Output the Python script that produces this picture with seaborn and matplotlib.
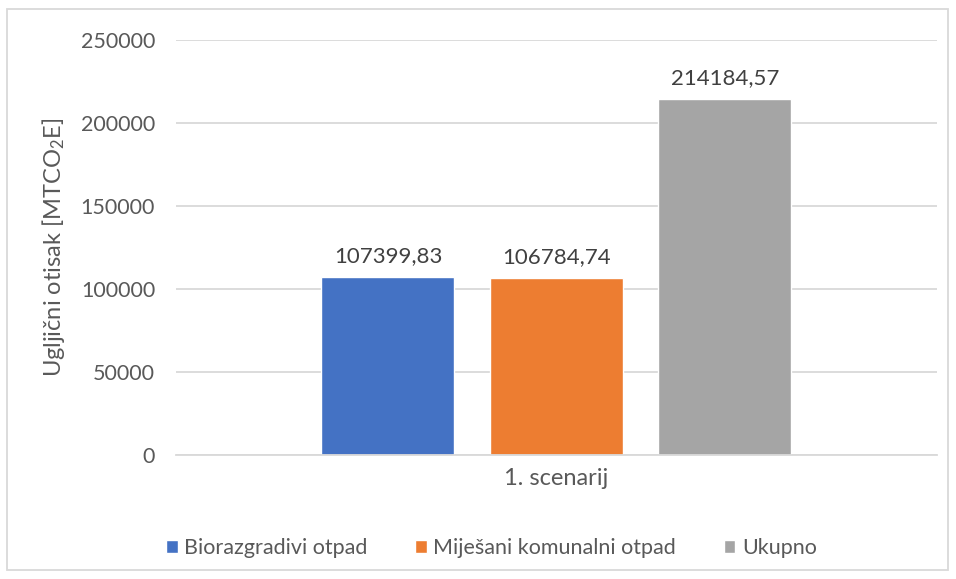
import matplotlib
matplotlib.use("Agg")
import matplotlib.pyplot as plt
import seaborn as sns
import pandas as pd
from matplotlib.patches import Rectangle

# === Data ===
scenarij = ["1. scenarij", "1. scenarij", "1. scenarij"]
vrste = ["Biorazgradivi otpad", "Miješani komunalni otpad", "Ukupno"]
vrijednosti = [107399.83, 106784.74, 214184.57]
boje = ["#4472C4", "#ED7D31", "#A5A5A5"]
y_ticks = [0, 50000, 100000, 150000, 200000, 250000]

df = pd.DataFrame({"scenarij": scenarij, "vrsta": vrste, "vrijednost": vrijednosti})

# === Style ===
sns.set_theme(style="white")
plt.rcParams["font.family"] = ["Lato", "DejaVu Sans"]
plt.rcParams["mathtext.fontset"] = "custom"
plt.rcParams["mathtext.rm"] = "Lato"
plt.rcParams["mathtext.it"] = "Lato"
text_col = "#595959"
grid_col = "#D9D9D9"

fig = plt.figure(figsize=(9.56, 5.79), dpi=100)
ax = fig.add_axes([0.184, 0.214, 0.796, 0.717])

sns.barplot(
    data=df, x="scenarij", y="vrijednost", hue="vrsta",
    palette=boje, saturation=1, width=0.664, gap=0.21, ax=ax,
)

# data labels with decimal comma
for cont in ax.containers:
    labels = [f"{v:.2f}".replace(".", ",") for v in cont.datavalues]
    ax.bar_label(cont, labels=labels, padding=8, fontsize=16, color="#404040")

# === Axes styling ===
ax.set_ylim(0, 250000)
ax.set_xlim(-0.5, 0.5)
ax.set_yticks(y_ticks)
ax.set_yticklabels([str(t) for t in y_ticks])
ax.yaxis.grid(True, color=grid_col, linewidth=1.3)
ax.set_axisbelow(True)
for s in ["top", "right", "left"]:
    ax.spines[s].set_visible(False)
ax.spines["bottom"].set_color(grid_col)
ax.spines["bottom"].set_linewidth(1.3)
ax.tick_params(axis="y", length=0, pad=15, labelsize=15.5, labelcolor=text_col)
ax.tick_params(axis="x", length=0, pad=9, labelsize=17, labelcolor=text_col)
ax.set_xlabel("")
ax.set_ylabel("Ugljični otisak [MTCO$_2$E]", fontsize=17, color=text_col, labelpad=10)

# === Legend ===
handles, labels = ax.get_legend_handles_labels()
ax.legend_.remove()
fig.legend(
    handles, labels, loc="center", bbox_to_anchor=(0.514, 0.054), ncol=3,
    frameon=False, fontsize=15.5, labelcolor=text_col, handlelength=0.55,
    handleheight=0.55, handletextpad=0.3, columnspacing=2.2,
)

# chart border
fig.patches.append(Rectangle((7 / 956, 9 / 579), 941 / 956, 561 / 579,
                             transform=fig.transFigure, fill=False,
                             edgecolor=grid_col, linewidth=1.3))

plt.savefig("out.png", dpi=100)
plt.close()
